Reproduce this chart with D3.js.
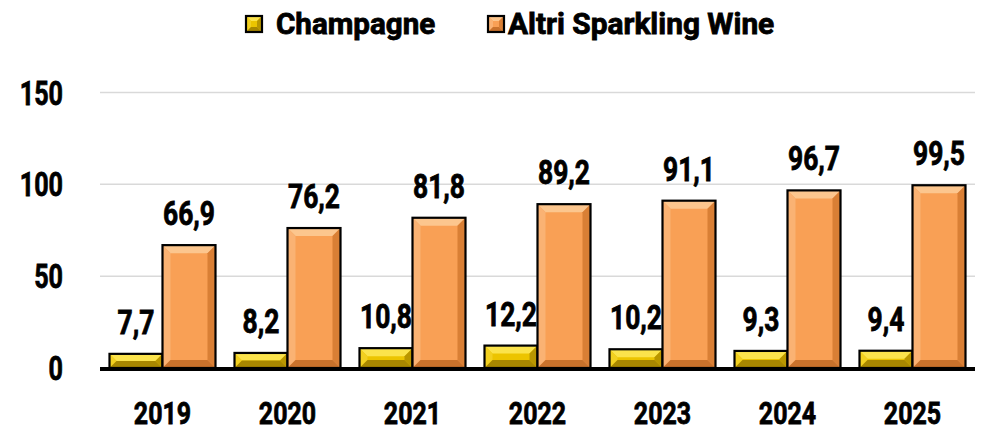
<!DOCTYPE html>
<meta charset="utf-8">
<style>
    body { margin: 0; background: #fff; }
    text {
        font-family: Roboto, "Noto Sans", sans-serif;
        font-weight: 700;
        fill: #000;
        stroke: #000;
        stroke-width: 0.8px;
    }
    .grid line { stroke: #d9d9d9; stroke-width: 1.5px; }
</style>
<script src="https://d3js.org/d3.v7.min.js"></script>
<body>
<div id="chart"></div>
<script>
    var years = ["2019", "2020", "2021", "2022", "2023", "2024", "2025"];
    var champagne = [7.7, 8.2, 10.8, 12.2, 10.2, 9.3, 9.4];
    var altri = [66.9, 76.2, 81.8, 89.2, 91.1, 96.7, 99.5];
    var seriesNames = ["Champagne", "Altri Sparkling Wine"];
    var yTicks = [0, 50, 100, 150];

    // face, top, left, right, bottom
    var palette = {
        "Champagne": ["#ecc400", "#fbe34c", "#f2d020", "#b99600", "#a88700"],
        "Altri Sparkling Wine": ["#f9a055", "#fcc68e", "#fab273", "#d97f35", "#c9722c"]
    };

    var svg = d3.select("#chart").append("svg")
        .attr("width", 984)
        .attr("height", 432);

    var margin = {left: 100, right: 9, top: 92.5, bottom: 64},
        width = 984 - margin.left - margin.right,
        baseY = 432 - margin.bottom;

    var x = d3.scaleBand().domain(years).range([margin.left, margin.left + width]);
    var xs = d3.scaleBand().domain(seriesNames).range([9.5, x.bandwidth() - 9.5]);
    var y = d3.scaleLinear().domain([0, 150]).range([baseY, margin.top]);

    var fmt = function(v) { return d3.format(".1f")(v).replace(".", ","); };

    // condensed-looking text: squeeze horizontally
    function label(g, tx, ty, str, size, anchor, sx) {
        return g.append("text")
            .attr("transform", "translate(" + tx + "," + ty + ") scale(" + sx + ",1)")
            .attr("text-anchor", anchor)
            .style("font-size", size + "px")
            .text(str);
    }

    // gridlines
    svg.append("g").attr("class", "grid")
        .selectAll("line").data(yTicks.filter(function(d) { return d > 0; }))
        .enter().append("line")
        .attr("x1", margin.left).attr("x2", margin.left + width)
        .attr("y1", function(d) { return y(d); })
        .attr("y2", function(d) { return y(d); });

    // y tick labels
    var yAxisG = svg.append("g");
    yTicks.forEach(function(t) {
        label(yAxisG, 63, y(t) + 12, t, 34, "end", 0.74);
    });

    function bevelBar(g, x0, y0, w, h, name, b) {
        var c = palette[name];
        b = Math.min(b, h / 2, w / 2);
        var x1 = x0 + w, y1 = y0 + h;
        g.append("rect").attr("x", x0).attr("y", y0).attr("width", w).attr("height", h).attr("fill", c[0]);
        var polys = [
            [[x0, y0], [x1, y0], [x1 - b, y0 + b], [x0 + b, y0 + b], c[1]],
            [[x0, y0], [x0 + b, y0 + b], [x0 + b, y1 - b], [x0, y1], c[2]],
            [[x1, y0], [x1, y1], [x1 - b, y1 - b], [x1 - b, y0 + b], c[3]],
            [[x0, y1], [x0 + b, y1 - b], [x1 - b, y1 - b], [x1, y1], c[4]]
        ];
        polys.forEach(function(p) {
            g.append("polygon")
                .attr("points", p.slice(0, 4).map(function(q) { return q.join(","); }).join(" "))
                .attr("fill", p[4]);
        });
        g.append("rect").attr("x", x0).attr("y", y0).attr("width", w).attr("height", h)
            .attr("fill", "none").attr("stroke", "#000").attr("stroke-width", 2.2);
    }

    var data = years.map(function(yr, i) {
        return {year: yr, values: [
            {name: seriesNames[0], value: champagne[i]},
            {name: seriesNames[1], value: altri[i]}
        ]};
    });

    var groups = svg.append("g").selectAll("g").data(data).enter().append("g")
        .attr("transform", function(d) { return "translate(" + x(d.year) + ",0)"; });

    groups.each(function(d) {
        var g = d3.select(this);
        d.values.forEach(function(v) {
            var bx = xs(v.name), by = y(v.value);
            bevelBar(g, bx, by, xs.bandwidth(), baseY - by, v.name, 8);
            label(g, bx + xs.bandwidth() / 2, by - 20, fmt(v.value), 33, "middle", 0.8);
        });
    });

    // x axis baseline
    svg.append("line")
        .attr("x1", margin.left).attr("x2", margin.left + width)
        .attr("y1", baseY + 1).attr("y2", baseY + 1)
        .attr("stroke", "#000").attr("stroke-width", 4);

    // year labels
    var xAxisG = svg.append("g");
    years.forEach(function(yr) {
        label(xAxisG, x(yr) + x.bandwidth() / 2, 424, yr, 32, "middle", 0.78);
    });

    // legend
    var legendPos = [[246, 276], [488, 508]];
    var legend = svg.append("g");
    seriesNames.forEach(function(name, i) {
        bevelBar(legend, legendPos[i][0], 16, 16, 16, name, 5);
        label(legend, legendPos[i][1], 34, name, 29, "start", i === 0 ? 1.02 : 1.03);
    });
</script>
</body>
